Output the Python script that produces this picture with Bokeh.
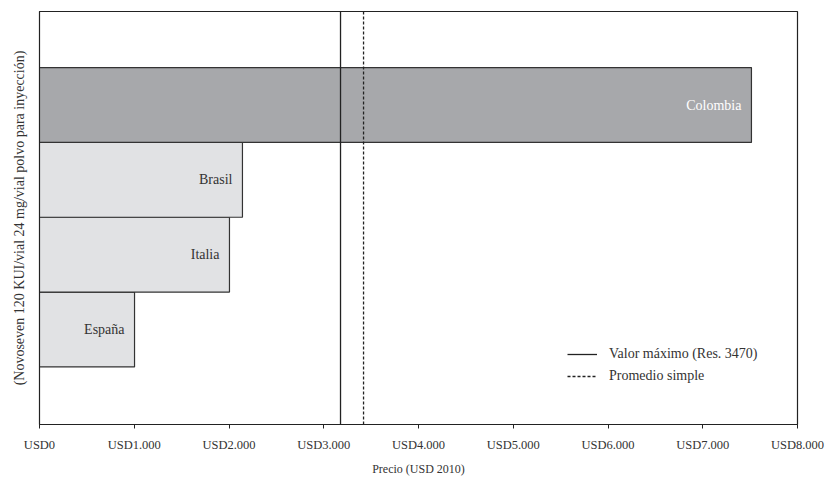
from bokeh.plotting import figure
from bokeh.models import Range1d, FixedTicker, Legend, LegendItem, ColumnDataSource
from bokeh.core.properties import value
from bokeh.embed import file_html
from bokeh.resources import INLINE

# data
paises = ["España", "Italia", "Brasil", "Colombia"]
posiciones = [1, 2, 3, 4]
precios = [1003, 2005, 2142, 7514]
colores = ["#e1e2e4", "#e1e2e4", "#e1e2e4", "#a7a8ab"]
colores_texto = ["#333333", "#333333", "#333333", "#ffffff"]
valor_maximo = 3177
promedio_simple = 3420
ticks = [0, 1000, 2000, 3000, 4000, 5000, 6000, 7000, 8000]
tick_labels = ["USD0", "USD1.000", "USD2.000", "USD3.000", "USD4.000",
               "USD5.000", "USD6.000", "USD7.000", "USD8.000"]

FONT = "Liberation Serif"
Y0, Y1 = -0.27, 5.25

src = ColumnDataSource(dict(pais=paises, y=posiciones, precio=precios,
                            color=colores, tcolor=colores_texto))

p = figure(output_backend="svg", toolbar_location=None,
           frame_width=758, frame_height=413,
           min_border_left=39, min_border_right=30,
           min_border_top=11, min_border_bottom=53,
           x_range=Range1d(0, 8000), y_range=Range1d(Y0, Y1))

p.outline_line_color = "#222222"
p.outline_line_width = 1.2
p.xgrid.visible = False
p.ygrid.visible = False
p.background_fill_color = "white"
p.border_fill_color = "white"

p.hbar(y="y", right="precio", left=0, height=1, source=src,
       fill_color="color", line_color="#333333", line_width=1.2)

p.text(x="precio", y="y", text="pais", source=src, x_offset=-10,
       text_align="right", text_baseline="middle",
       text_font=value(FONT), text_font_size="14px", text_color="tcolor")

r1 = p.segment(x0=[valor_maximo], x1=[valor_maximo], y0=[Y0], y1=[Y1],
               line_color="#222222", line_width=1.3)
r2 = p.segment(x0=[promedio_simple], x1=[promedio_simple], y0=[Y0], y1=[Y1],
               line_color="#222222", line_width=1.3, line_dash="3 2")

legend = Legend(items=[LegendItem(label="Valor máximo (Res. 3470)", renderers=[r1]),
                       LegendItem(label="Promedio simple", renderers=[r2])],
                location=(528, 38), border_line_color=None,
                background_fill_alpha=0, padding=0, margin=0, spacing=2,
                glyph_width=30, glyph_height=20, label_standoff=12,
                label_text_font=FONT, label_text_font_size="14px",
                label_text_color="#333333")
p.add_layout(legend, "center")

# x axis
xa = p.xaxis[0]
xa.ticker = FixedTicker(ticks=ticks)
xa.major_label_overrides = {t: l for t, l in zip(ticks, tick_labels)}
xa.minor_tick_line_color = None
xa.major_tick_in = 0
xa.major_tick_out = 4
xa.axis_line_color = "#222222"
xa.major_tick_line_color = "#222222"
xa.major_label_text_font = FONT
xa.major_label_text_font_size = "12.5px"
xa.major_label_text_color = "#333333"
xa.major_label_standoff = 9
xa.axis_label = "Precio (USD 2010)"
xa.axis_label_text_font = FONT
xa.axis_label_text_font_size = "12px"
xa.axis_label_text_font_style = "normal"
xa.axis_label_text_color = "#333333"
xa.axis_label_standoff = 7

# y axis
ya = p.yaxis[0]
ya.ticker = FixedTicker(ticks=[])
ya.major_tick_line_color = None
ya.minor_tick_line_color = None
ya.axis_line_color = "#222222"
ya.axis_label = "(Novoseven 120 KUI/vial 24 mg/vial polvo para inyección)"
ya.axis_label_text_font = FONT
ya.axis_label_text_font_size = "14px"
ya.axis_label_text_font_style = "normal"
ya.axis_label_text_color = "#333333"
ya.axis_label_standoff = 13

open("out.html", "w").write(file_html(p, INLINE))
